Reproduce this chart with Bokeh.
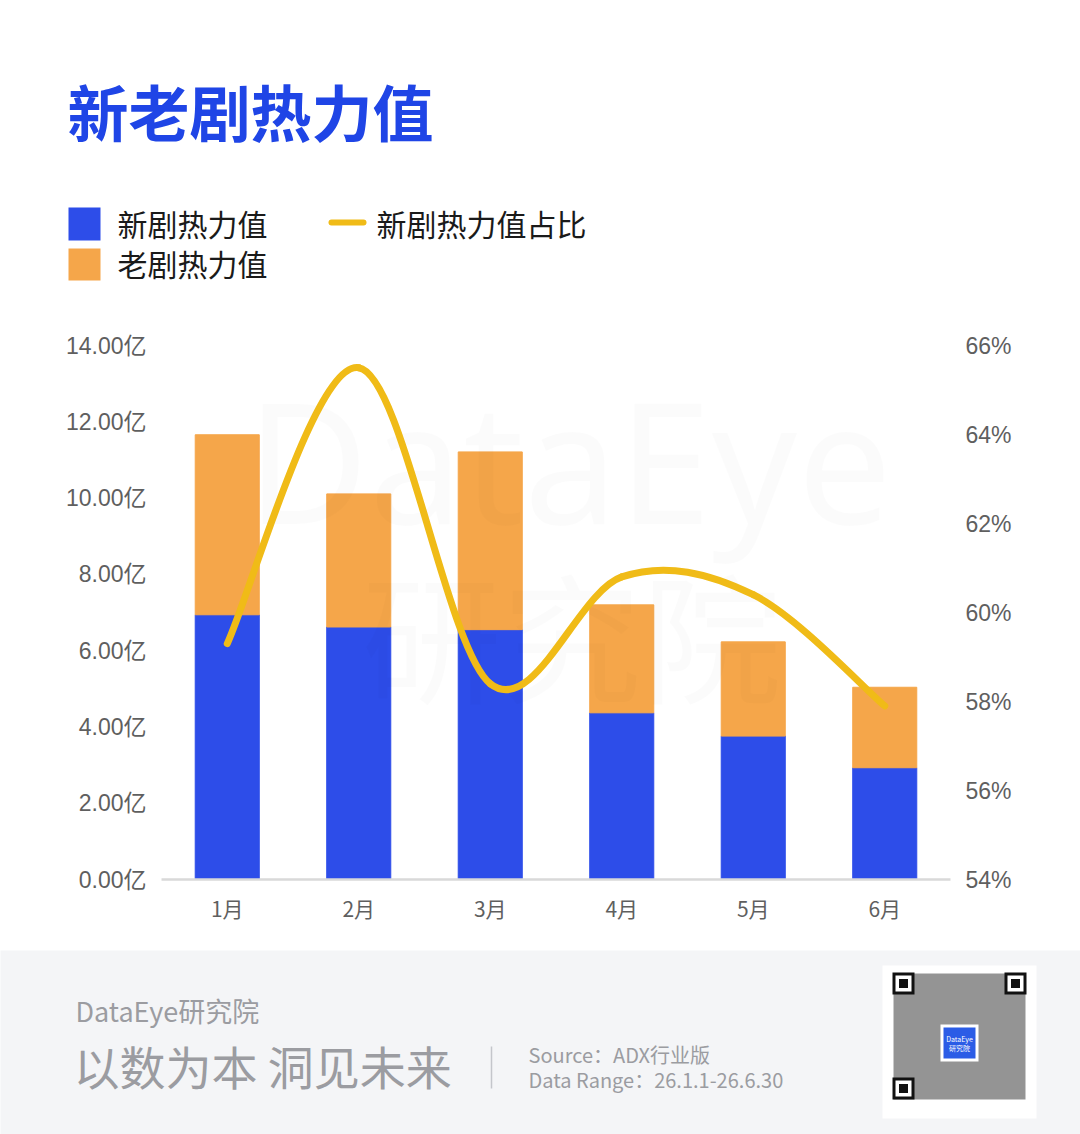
from bokeh.plotting import figure
from bokeh.models import Range1d, LinearAxis, FixedTicker, CustomJSTickFormatter, ColumnDataSource
from bokeh.layouts import column
from bokeh.embed import file_html
from bokeh.resources import INLINE
from bokeh.core.properties import value

# ---------------- data ----------------
months = ["1月", "2月", "3月", "4月", "5月", "6月"]
new_heat = [6.94, 6.62, 6.55, 4.37, 3.76, 2.93]      # 新剧热力值 (亿)
old_heat = [4.72, 3.49, 4.66, 2.83, 2.47, 2.11]      # 老剧热力值 (亿)
new_share = [59.3, 65.5, 58.4, 60.8, 60.4, 57.9]     # 新剧热力值占比 (%)
left_ticks = [0, 2, 4, 6, 8, 10, 12, 14]
right_ticks = [54, 56, 58, 60, 62, 64, 66]

title_text = "新老剧热力值"
legend_labels = ["新剧热力值", "老剧热力值", "新剧热力值占比"]
footer_brand = "DataEye研究院"
footer_slogan = "以数为本 洞见未来"
footer_source = "Source：ADX行业版"
footer_range = "Data Range：26.1.1-26.6.30"

# ---------------- style / geometry ----------------
W = 1080
H_HEAD, H_CHART, H_FOOT = 300, 650, 184
CJK = "Noto Sans CJK SC"
NUM = "Liberation Sans, Noto Sans CJK SC"
BLUE = "#2d4de9"
ORANGE = "#f5a64a"
YELLOW = "#f0bb17"
TITLE_BLUE = "#1f45e6"
TICK_COLOR = "#5f5f5f"
FOOT_BG = "#f4f5f7"
FOOT_TXT = "#9b9ca1"


def blank(height, top, bg="#ffffff"):
    f = figure(width=W, height=height, x_range=Range1d(0, W), y_range=Range1d(top + height, top),
               output_backend="svg", toolbar_location=None,
               x_axis_location=None, y_axis_location=None, min_border=0)
    f.frame_align = False
    f.grid.visible = False
    f.outline_line_color = None
    f.background_fill_color = bg
    f.border_fill_color = bg
    return f


def txt(f, x, y, text, size, color, align="left", font=CJK, style="normal", alpha=1.0):
    f.text(x=[x], y=[y], text=[text], text_font=value(font), text_font_size=size,
           text_font_style=style, text_color=color, text_alpha=alpha,
           text_baseline="middle", text_align=align)


# ---------------- header (title + legend) ----------------
head = blank(H_HEAD, 0)
txt(head, 67, 110, title_text, "61px", TITLE_BLUE, style="bold")
head.rect(x=[84], y=[223.5], width=32, height=33, fill_color=BLUE, line_color=None)
head.rect(x=[84], y=[264], width=32, height=32, fill_color=ORANGE, line_color=None)
head.line(x=[331, 363], y=[222, 222], line_color=YELLOW, line_width=6, line_cap="round")
txt(head, 117, 222, legend_labels[0], "30px", "#1a1a1a")
txt(head, 117, 262, legend_labels[1], "30px", "#1a1a1a")
txt(head, 376, 222, legend_labels[2], "30px", "#1a1a1a")

# ---------------- chart ----------------
p = figure(width=W, height=H_CHART, x_range=Range1d(-0.5, 5.5), y_range=Range1d(0, 14),
           output_backend="svg", toolbar_location=None,
           min_border_left=161, min_border_right=130, min_border_top=45, min_border_bottom=71)
p.frame_align = False
p.extra_y_ranges = {"pct": Range1d(54, 66)}
p.grid.visible = False
p.outline_line_color = None
p.background_fill_color = "#ffffff"
p.border_fill_color = "#ffffff"

src = ColumnDataSource(dict(x=list(range(len(months))), new=new_heat, old=old_heat))
p.vbar_stack(["new", "old"], x="x", width=0.487, color=[BLUE, ORANGE], source=src)

# very faint watermark
p.text(x=[2.6], y=[11.05], text=["DataEye"], text_font=value("Noto Sans"), text_font_size="168px",
       text_color="#000000", text_alpha=0.017, text_align="center", text_baseline="middle")
p.text(x=[2.62], y=[6.5], text=["研究院"], text_font=value(CJK), text_font_size="140px",
       text_color="#000000", text_alpha=0.017, text_align="center", text_baseline="middle")

# smooth share line (Catmull-Rom -> cubic Bezier control points)
n = len(new_share)
xs = list(range(n))
bz = dict(x0=[], y0=[], x1=[], y1=[], cx0=[], cy0=[], cx1=[], cy1=[])
for i in range(n - 1):
    a = max(i - 1, 0)
    d = min(i + 2, n - 1)
    bz["x0"].append(xs[i]); bz["y0"].append(new_share[i])
    bz["x1"].append(xs[i + 1]); bz["y1"].append(new_share[i + 1])
    bz["cx0"].append(xs[i] + (xs[i + 1] - xs[a]) / 6.0)
    bz["cy0"].append(new_share[i] + (new_share[i + 1] - new_share[a]) / 6.0)
    bz["cx1"].append(xs[i + 1] - (xs[d] - xs[i]) / 6.0)
    bz["cy1"].append(new_share[i + 1] - (new_share[d] - new_share[i]) / 6.0)
p.bezier(source=ColumnDataSource(bz), x0="x0", y0="y0", x1="x1", y1="y1",
         cx0="cx0", cy0="cy0", cx1="cx1", cy1="cy1",
         y_range_name="pct", line_color=YELLOW, line_width=7, line_cap="round")

# axes
p.xaxis.ticker = FixedTicker(ticks=xs)
p.xaxis.formatter = CustomJSTickFormatter(args=dict(m=months), code="return m[Math.round(tick)];")
p.xaxis.axis_line_color = "#d9d9d9"
p.xaxis.axis_line_width = 2.5
p.xaxis.major_tick_line_color = None
p.xaxis.minor_tick_line_color = None
p.xaxis.major_tick_out = 0
p.xaxis.major_tick_in = 0
p.xaxis.major_label_standoff = 13
p.xaxis.major_label_text_font = CJK
p.xaxis.major_label_text_font_size = "21px"
p.xaxis.major_label_text_color = TICK_COLOR

p.yaxis.ticker = FixedTicker(ticks=left_ticks)
p.yaxis.formatter = CustomJSTickFormatter(code="return tick.toFixed(2) + '亿';")

right = LinearAxis(y_range_name="pct", ticker=FixedTicker(ticks=right_ticks),
                   formatter=CustomJSTickFormatter(code="return tick.toFixed(0) + '%';"))
p.add_layout(right, "right")

for ax in (p.yaxis[0], right):
    ax.axis_line_color = None
    ax.major_tick_line_color = None
    ax.minor_tick_line_color = None
    ax.major_tick_out = 0
    ax.major_tick_in = 0
    ax.major_label_standoff = 15
    ax.major_label_text_font = NUM
    ax.major_label_text_font_size = "23px"
    ax.major_label_text_color = TICK_COLOR

# ---------------- footer ----------------
foot = blank(H_FOOT, 950, bg=FOOT_BG)
txt(foot, 75, 1010, footer_brand, "27px", FOOT_TXT)
txt(foot, 73, 1064, footer_slogan, "46px", FOOT_TXT)
foot.line(x=[491, 491], y=[1046, 1088], line_color="#c4c6cb", line_width=1.5)
txt(foot, 528, 1054, footer_source, "20px", FOOT_TXT)
txt(foot, 528, 1079, footer_range, "20px", FOOT_TXT)

# QR code card (decorative placeholder)
foot.rect(x=[959], y=[1041.5], width=154, height=153, fill_color="#ffffff", line_color=None)
foot.rect(x=[959], y=[1036], width=132, height=126, fill_color="#000000", fill_alpha=0.42,
          line_color=None)
fx = [903, 1015, 903]
fy = [983, 983, 1088]
foot.rect(x=fx, y=fy, width=22, height=22, fill_color="#111111", line_color=None)
foot.rect(x=fx, y=fy, width=16, height=16, fill_color="#ffffff", line_color=None)
foot.rect(x=fx, y=fy, width=9, height=9, fill_color="#111111", line_color=None)
foot.rect(x=[959], y=[1042.5], width=38, height=37, fill_color="#ffffff", line_color=None)
foot.rect(x=[959], y=[1042.5], width=32, height=31, fill_color="#2b5ce6", line_color=None)
txt(foot, 959, 1038, "DataEye", "7px", "#ffffff", align="center")
txt(foot, 959, 1047, "研究院", "7px", "#ffffff", align="center")

layout = column(head, p, foot, spacing=0)
open("out.html", "w").write(file_html(layout, INLINE))
